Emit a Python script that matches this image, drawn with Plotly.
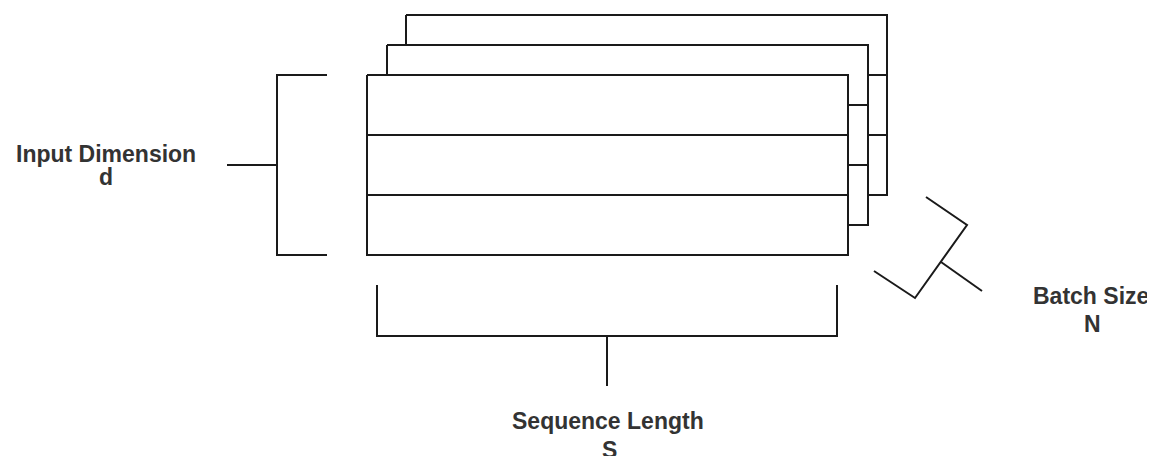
import plotly.graph_objects as go

# diagram geometry in pixel coordinates (y grows downwards)
layer_left = [406, 387, 367]      # back, middle, front
layer_top = [15, 45, 75]
layer_width = 481
row_height = 60
n_rows = 3

# left bracket (input dimension)
bracket_d_x = [327, 277, 277, 327]
bracket_d_y = [75, 75, 255, 255]
tick_d_x = [227, 277]
tick_d_y = [165, 165]

# bottom bracket (sequence length)
bracket_s_x = [377, 377, 837, 837]
bracket_s_y = [285, 336, 336, 285]
tick_s_x = [607, 607]
tick_s_y = [336, 386]

# rotated bracket (batch size)
bracket_n_x = [926, 967, 915, 874]
bracket_n_y = [197, 225, 298, 271]
tick_n_x = [941, 982]
tick_n_y = [262, 291]

# labels, one entry per text line
labels = ["Input Dimension", "d", "Sequence Length", "S", "Batch Size", "N"]
label_x = [106, 106, 608, 609, 1091, 1092]
label_y = [154, 177, 421, 450, 296, 324]

# the page body adds an 8px margin, so the view window is shifted by it
page_offset = 8

line_style = dict(color="#1a1a1a", width=2)
fig = go.Figure()

for left, top in zip(layer_left, layer_top):
    right = left + layer_width
    bottom = top + row_height * n_rows
    fig.add_trace(go.Scatter(
        x=[left, right, right, left, left], y=[top, top, bottom, bottom, top],
        mode="lines", fill="toself", fillcolor="white", line=line_style,
        hoverinfo="skip", showlegend=False))
    xs, ys = [], []
    for r in range(1, n_rows):
        yy = top + r * row_height
        xs += [left, right, None]
        ys += [yy, yy, None]
    fig.add_trace(go.Scatter(x=xs, y=ys, mode="lines", line=line_style,
                             hoverinfo="skip", showlegend=False))

for bx, by in [(bracket_d_x, bracket_d_y), (tick_d_x, tick_d_y),
               (bracket_s_x, bracket_s_y), (tick_s_x, tick_s_y),
               (bracket_n_x, bracket_n_y), (tick_n_x, tick_n_y)]:
    fig.add_trace(go.Scatter(x=bx, y=by, mode="lines", line=line_style,
                             hoverinfo="skip", showlegend=False))

for txt, tx, ty in zip(labels, label_x, label_y):
    fig.add_annotation(x=tx, y=ty, text="<b>%s</b>" % txt, showarrow=False,
                       xanchor="center", yanchor="middle",
                       font=dict(family="Liberation Sans, Arial", size=23, color="#333333"))

fig.update_xaxes(range=[page_offset, 1155 + page_offset], visible=False, fixedrange=True)
fig.update_yaxes(range=[456 + page_offset, page_offset], visible=False, fixedrange=True)
fig.update_layout(width=1155, height=456, margin=dict(l=0, r=0, t=0, b=0),
                  plot_bgcolor="white", paper_bgcolor="white")

fig.write_html("out.html")
